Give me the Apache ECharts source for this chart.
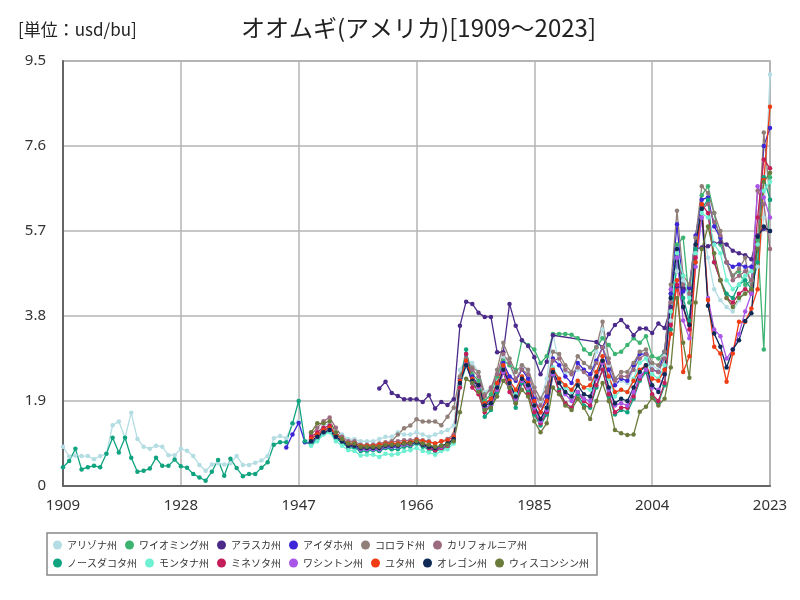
<!DOCTYPE html>
<html>
<head>
<meta charset="utf-8">
<script src="https://cdn.jsdelivr.net/npm/echarts@6/dist/echarts.min.js"></script>
<style>html,body{margin:0;padding:0;background:#fff}#c{width:800px;height:600px}</style>
</head>
<body>
<div id="c"></div>
<script>
const FIRST_YEAR = 1909, LAST_YEAR = 2023;
const yTicks = [0, 1.9, 3.8, 5.7, 7.6, 9.5];
const seriesNames = ['アリゾナ州','ワイオミング州','アラスカ州','アイダホ州','コロラド州','カリフォルニア州','ノースダコタ州','モンタナ州','ミネソタ州','ワシントン州','ユタ州','オレゴン州','ウィスコンシン州'];
const seriesColors = ['#b3dde3','#3cb371','#4b2a8a','#3d26d8','#8f7f78','#9c6b80','#0fa37f','#6ff0d2','#c41e5a','#a855e8','#f03c14','#0e2a55','#6b7b3b'];

// start year of each series
const startYears = [1909, 1949, 1960, 1945, 1949, 1949, 1909, 1949, 1949, 1949, 1949, 1949, 1949];

const arizona = [
 0.88,0.66,0.68,0.67,0.67,0.60,0.67,0.72,1.36,1.44,
 1.08,1.64,1.05,0.88,0.83,0.90,0.88,0.69,0.69,0.83,
 0.79,0.67,0.47,0.34,0.48,0.51,0.48,0.51,0.67,0.47,
 0.47,0.52,0.57,0.67,1.07,1.12,1.07,1.38,1.44,
 1.00,1.05,
 1.20,1.35,1.40,1.25,1.15,1.05,1.05,1.00,1.00,1.00,
 1.05,1.10,1.10,1.20,1.15,1.15,1.20,1.15,1.10,1.15,
 1.20,1.25,1.35,2.60,2.85,2.75,2.55,2.10,2.20,2.45,
 2.90,2.70,2.35,2.70,2.55,2.20,1.90,2.40,3.40,2.70,
 2.55,2.50,2.60,2.55,2.40,3.00,3.50,2.70,2.30,2.35,
 2.30,2.60,3.00,2.95,2.70,2.60,2.90,3.70,4.80,4.60,
 4.10,5.20,6.00,5.10,4.40,4.15,4.00,3.90,4.15,4.40,
 4.60,4.90,6.00,9.20
];
const wyoming = [
 0.95,
 1.10,1.25,1.30,1.10,1.00,0.90,0.90,0.82,0.85,0.85,
 0.80,0.88,0.88,0.88,0.92,0.95,1.00,0.95,0.90,0.85,
 0.90,0.95,1.05,2.40,2.95,2.50,2.35,1.90,2.05,2.45,
 2.80,2.70,2.60,3.25,3.15,3.05,2.75,2.90,3.40,3.40,
 3.40,3.38,3.30,3.05,2.95,3.10,3.30,3.15,2.95,3.00,
 3.15,3.30,3.20,3.35,2.90,2.85,3.00,4.30,5.40,5.55,
 4.10,5.00,6.50,6.70,6.10,5.40,5.00,4.70,4.80,4.50,
 4.60,5.50,3.05,6.90
];
const alaska = [
 2.18,2.33,2.08,2.01,1.94,1.94,1.94,1.88,2.03,1.73,
 1.88,1.81,1.94,3.58,4.12,4.07,3.87,3.78,3.78,2.99,
 2.99,4.07,3.58,3.26,3.13,2.88,2.50,2.78,3.37,null,
 null,null,null,null,null,3.22,3.10,3.40,3.60,3.71,
 3.56,3.37,3.52,3.52,3.42,3.63,3.53,4.00,4.46,4.42,
 4.42,5.30,5.33,5.36,5.42,5.45,5.40,5.26,5.20,5.16,
 5.07,5.60,5.75,5.70
];
const idaho = [
 0.86,1.15,1.41,
 0.98,0.95,
 1.10,1.25,1.30,1.10,1.00,0.90,0.88,0.80,0.82,0.82,
 0.80,0.85,0.85,0.88,0.92,0.92,0.98,0.92,0.88,0.82,
 0.88,0.92,1.05,2.40,2.85,2.45,2.25,1.80,1.95,2.30,
 2.75,2.45,2.35,2.60,2.40,1.95,1.65,2.00,2.85,2.70,
 2.45,2.30,2.75,2.60,2.50,2.80,3.10,2.60,2.25,2.40,
 2.35,2.70,2.95,2.95,2.60,2.55,3.00,4.30,5.85,4.35,
 4.45,5.60,6.40,6.45,5.80,5.55,5.00,4.90,4.95,4.90,
 4.90,5.30,7.60,8.00
];
const colorado = [
 1.05,
 1.15,1.25,1.30,1.15,1.05,0.95,0.95,0.88,0.88,0.90,
 0.90,0.95,1.00,1.15,1.29,1.35,1.49,1.44,1.44,1.44,
 1.36,1.55,1.75,2.45,2.85,2.65,2.55,2.05,2.15,2.60,
 3.20,2.85,2.55,2.70,2.60,2.20,1.95,2.20,3.00,2.95,
 2.70,2.55,2.90,2.75,2.65,3.10,3.67,2.85,2.40,2.55,
 2.55,2.75,3.00,3.05,2.75,2.70,3.00,4.50,6.15,4.70,
 4.50,5.55,6.70,6.55,6.10,5.70,5.00,4.70,4.85,5.10,
 4.40,5.40,7.90,6.40
];
const california = [
 1.15,
 1.30,1.45,1.53,1.30,1.10,1.00,1.00,0.92,0.92,0.92,
 0.95,0.98,0.98,1.00,1.02,1.02,1.05,1.02,1.00,0.95,
 1.00,1.05,1.15,2.35,2.75,2.60,2.45,2.00,2.20,2.50,
 2.95,2.75,2.40,2.60,2.50,2.10,1.80,2.10,2.80,2.85,
 2.60,2.50,2.65,2.55,2.40,2.75,3.10,2.75,2.35,2.45,
 2.45,2.60,2.85,2.95,2.60,2.55,2.85,4.10,5.20,4.50,
 4.30,5.30,6.20,6.30,5.90,5.60,5.00,4.60,4.70,4.80,
 4.60,6.60,6.30,5.30
];
const northDakota = [
 0.42,0.56,0.83,0.37,0.42,0.45,0.42,0.72,1.08,0.75,
 1.08,0.63,0.32,0.34,0.39,0.63,0.45,0.45,0.59,0.44,
 0.41,0.27,0.19,0.12,0.32,0.58,0.23,0.61,0.40,0.22,
 0.27,0.27,0.41,0.53,0.92,0.98,0.98,1.40,1.90,
 1.00,0.92,
 1.05,1.18,1.22,1.05,0.98,0.85,0.85,0.78,0.78,0.80,
 0.78,0.85,0.82,0.82,0.88,0.88,0.95,0.88,0.82,0.78,
 0.82,0.88,1.00,2.25,3.05,2.30,2.15,1.55,1.70,2.10,
 2.55,2.20,1.75,2.30,2.10,1.60,1.35,1.60,2.50,2.15,
 1.85,1.75,2.05,1.80,1.75,2.20,2.60,2.00,1.60,1.70,
 1.65,1.95,2.35,2.55,2.00,1.85,2.25,3.50,5.10,4.20,
 3.70,5.30,6.20,6.40,5.00,4.60,4.30,4.20,4.50,4.60,
 4.40,5.00,6.90,6.40
];
const montana = [
 0.90,
 1.00,1.15,1.20,1.00,0.90,0.80,0.78,0.68,0.70,0.70,
 0.65,0.72,0.70,0.72,0.78,0.80,0.85,0.78,0.75,0.70,
 0.78,0.82,0.95,2.20,2.70,2.35,2.20,1.70,1.80,2.20,
 2.60,2.30,2.05,2.45,2.20,1.80,1.45,1.75,2.65,2.40,
 2.20,2.10,2.35,2.20,2.15,2.55,2.90,2.40,2.00,2.15,
 2.10,2.40,2.75,2.85,2.50,2.40,2.70,3.90,5.20,4.70,
 4.20,5.20,6.10,6.00,5.40,5.20,4.60,4.40,4.50,4.70,
 4.80,5.40,6.60,6.80
];
const minnesota = [
 1.10,
 1.20,1.30,1.35,1.15,1.05,0.92,0.92,0.85,0.85,0.85,
 0.85,0.92,0.90,0.92,0.95,0.95,1.00,0.92,0.85,0.80,
 0.85,0.90,1.05,2.20,2.95,2.20,2.05,1.65,1.80,2.15,
 2.55,2.10,1.85,2.35,2.05,1.65,1.40,1.65,2.55,2.10,
 1.85,1.75,2.10,1.90,1.80,2.25,2.60,2.05,1.65,1.75,
 1.75,2.00,2.40,2.60,2.05,1.90,2.30,3.60,4.50,4.00,
 3.50,5.10,6.30,6.10,5.00,4.60,4.20,4.10,4.30,4.40,
 4.30,6.00,7.30,7.10
];
const washington = [
 1.00,
 1.10,1.20,1.25,1.10,1.00,0.90,0.90,0.82,0.82,0.82,
 0.82,0.88,0.88,0.88,0.92,0.92,0.98,0.92,0.88,0.85,
 0.88,0.92,1.05,2.30,2.75,2.30,2.20,1.75,1.80,2.15,
 2.55,2.25,1.95,2.35,2.20,1.75,1.45,1.70,2.50,2.30,
 2.05,1.90,2.10,1.95,1.90,2.40,2.75,2.15,1.80,1.85,
 1.80,2.10,2.45,2.60,2.20,2.15,2.50,4.40,5.10,3.70,
 3.30,4.90,6.00,4.20,3.50,3.35,2.85,3.05,3.40,3.90,
 4.30,6.70,6.45,6.00
];
const utah = [
 1.05,
 1.15,1.25,1.30,1.15,1.05,0.95,0.95,0.90,0.90,0.90,
 0.92,0.95,0.95,0.95,0.98,0.98,1.02,1.00,0.98,0.95,
 1.00,1.02,1.10,2.35,2.80,2.40,2.25,1.85,1.95,2.30,
 2.70,2.35,2.15,2.45,2.30,1.90,1.65,1.90,2.60,2.40,
 2.25,2.15,2.35,2.20,2.25,2.55,2.90,2.45,2.10,2.15,
 2.10,2.35,2.60,2.70,2.40,2.35,2.60,3.40,4.60,2.55,
 2.90,5.00,6.30,4.16,3.11,2.96,2.33,2.96,3.67,3.67,
 3.97,4.40,6.84,8.48
];
const oregon = [
 1.00,
 1.10,1.20,1.25,1.10,1.00,0.90,0.90,0.85,0.85,0.85,
 0.85,0.90,0.90,0.90,0.95,0.95,0.98,0.92,0.88,0.85,
 0.90,0.95,1.05,2.30,2.70,2.35,2.25,1.80,1.85,2.20,
 2.60,2.30,2.00,2.40,2.25,1.80,1.50,1.75,2.55,2.30,
 2.10,2.00,2.25,2.05,2.00,2.45,2.80,2.20,1.85,1.95,
 1.90,2.20,2.55,2.70,2.25,2.10,2.50,4.20,5.30,4.00,
 3.60,5.40,6.20,4.03,3.41,3.11,2.65,3.05,3.26,3.69,
 3.86,5.57,5.80,5.70
];
const wisconsin = [
 1.20,
 1.40,1.40,1.45,1.20,1.05,0.95,0.95,0.88,0.88,0.88,
 0.88,0.92,0.92,0.92,0.95,0.95,1.00,0.95,0.92,0.88,
 0.90,0.92,1.00,1.65,2.40,2.30,2.10,1.70,1.75,2.00,
 2.35,2.20,1.85,2.15,2.00,1.45,1.20,1.40,2.20,2.05,
 1.80,1.70,1.95,1.75,1.50,1.90,2.30,1.90,1.25,1.18,
 1.14,1.15,1.66,1.77,1.97,1.80,1.95,2.65,4.20,3.20,
 2.42,4.10,5.30,5.80,5.20,4.60,4.20,4.00,4.20,4.30,
 4.40,5.30,6.80,7.00
];

const seriesValues = [arizona, wyoming, alaska, idaho, colorado, california, northDakota, montana, minnesota, washington, utah, oregon, wisconsin];

const years = [];
for (let y = FIRST_YEAR; y <= LAST_YEAR; y++) years.push(String(y));

function place(start, vals) {
  const out = new Array(years.length).fill(null);
  for (let i = 0; i < vals.length; i++) {
    const idx = start - FIRST_YEAR + i;
    if (idx < out.length) out[idx] = vals[i];
  }
  return out;
}

const FONT = "'Noto Sans CJK JP', 'Noto Sans', sans-serif";
const chart = echarts.init(document.getElementById('c'), null, {renderer: 'canvas'});
chart.setOption({
  animation: false,
  backgroundColor: '#fff',
  textStyle: {fontFamily: FONT},
  title: [
    {text: '[単位：usd/bu]', left: 13, top: 16, textStyle: {fontSize: 17, fontWeight: 'normal', color: '#222', fontFamily: FONT}},
    {text: 'オオムギ(アメリカ)[1909～2023]', left: 236, top: 11, textStyle: {fontSize: 24, fontWeight: 'normal', color: '#222', fontFamily: FONT}}
  ],
  grid: {left: 63, right: 30, top: 61, bottom: 114, show: true, borderColor: '#999', borderWidth: 1.5, containLabel: false},
  legend: {
    data: seriesNames, left: 47, top: 533, width: 545,
    icon: 'circle', itemWidth: 9, itemHeight: 9, itemGap: 8,
    textStyle: {fontSize: 10, color: '#333', fontFamily: FONT},
    borderColor: '#888', borderWidth: 1.5, padding: [7, 8, 7, 6]
  },
  xAxis: {
    type: 'category', data: years, boundaryGap: false,
    axisLine: {lineStyle: {color: '#666', width: 2}},
    axisTick: {show: false},
    axisLabel: {interval: 18, fontSize: 15, color: '#333', margin: 12, fontFamily: "'Noto Sans', sans-serif"},
    splitLine: {show: true, interval: 18, lineStyle: {color: '#b4b4b4', width: 1.5}}
  },
  yAxis: {
    type: 'value', min: yTicks[0], max: yTicks[yTicks.length-1], interval: 1.9,
    axisLine: {show: true, lineStyle: {color: '#666', width: 2}},
    axisTick: {show: false},
    axisLabel: {fontSize: 15, color: '#333', margin: 17, fontFamily: "'Noto Sans', sans-serif",
      formatter: v => (Math.abs(v) < 1e-9 ? '0' : (Math.round(v*10)/10).toFixed(1))},
    splitLine: {show: true, lineStyle: {color: '#b4b4b4', width: 1.5}}
  },
  series: seriesNames.map((n, i) => ({
    name: n, type: 'line', data: place(startYears[i], seriesValues[i]),
    color: seriesColors[i], symbol: 'circle', symbolSize: 4.5, showSymbol: true, showAllSymbol: true,
    connectNulls: n === 'アラスカ州',
    lineStyle: {width: 1.3}, itemStyle: {color: seriesColors[i]}
  }))
});
</script>
</body>
</html>
